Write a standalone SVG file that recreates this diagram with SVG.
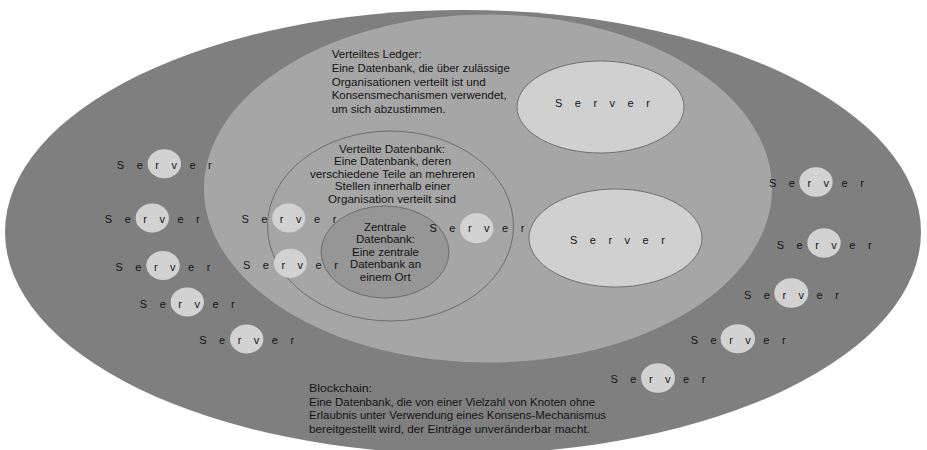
<svg xmlns="http://www.w3.org/2000/svg" width="927" height="450" viewBox="0 0 927 450">
<style>
text{font-family:"Liberation Sans",Arial,sans-serif;font-size:11.5px;fill:#141414}
.srv{font-size:11px;letter-spacing:12.5px}
.dot{fill:#d2d2d2}
.big{fill:#d0d0d0;stroke:#707070;stroke-width:1}
</style>
<rect width="927" height="450" fill="#ffffff"/>
<g id="blockchain">
<ellipse cx="463" cy="232" rx="458" ry="222" fill="#7f7f7f"/>
<text x="309" y="391.5" textLength="63" lengthAdjust="spacingAndGlyphs">Blockchain:</text>
<text x="309" y="405.5" textLength="286" lengthAdjust="spacingAndGlyphs">Eine Datenbank, die von einer Vielzahl von Knoten ohne</text>
<text x="309" y="419.3" textLength="297" lengthAdjust="spacingAndGlyphs">Erlaubnis unter Verwendung eines Konsens-Mechanismus</text>
<text x="309" y="432.8" textLength="281" lengthAdjust="spacingAndGlyphs">bereitgestellt wird, der Einträge unveränderbar macht.</text>
</g>
<g id="ledger">
<ellipse cx="488" cy="188.5" rx="284" ry="174" fill="#a6a6a6"/>
<text x="331.7" y="57.8" textLength="90" lengthAdjust="spacingAndGlyphs">Verteiltes Ledger:</text>
<text x="331.7" y="71.8" textLength="178" lengthAdjust="spacingAndGlyphs">Eine Datenbank, die über zulässige</text>
<text x="331.7" y="85.6" textLength="154" lengthAdjust="spacingAndGlyphs">Organisationen verteilt ist und</text>
<text x="331.7" y="99.3" textLength="175" lengthAdjust="spacingAndGlyphs">Konsensmechanismen verwendet,</text>
<text x="331.7" y="113" textLength="114" lengthAdjust="spacingAndGlyphs">um sich abzustimmen.</text>
</g>
<g id="verteilte-datenbank">
<ellipse cx="390.5" cy="226" rx="123" ry="95" fill="#a6a6a6" stroke="#6e6e6e" stroke-width="1"/>
<text x="339" y="152.5" textLength="106" lengthAdjust="spacingAndGlyphs">Verteilte Datenbank:</text>
<text x="334" y="165" textLength="117" lengthAdjust="spacingAndGlyphs">Eine Datenbank, deren</text>
<text x="310" y="177.5" textLength="165" lengthAdjust="spacingAndGlyphs">verschiedene Teile an mehreren</text>
<text x="334.7" y="190" textLength="116" lengthAdjust="spacingAndGlyphs">Stellen innerhalb einer</text>
<text x="328" y="202.6" textLength="128" lengthAdjust="spacingAndGlyphs">Organisation verteilt sind</text>
</g>
<g id="zentrale-datenbank">
<ellipse cx="385" cy="252" rx="64" ry="46" fill="#969696" stroke="#6e6e6e" stroke-width="1"/>
<text x="364" y="231" textLength="42" lengthAdjust="spacingAndGlyphs">Zentrale</text>
<text x="356" y="243.4" textLength="59" lengthAdjust="spacingAndGlyphs">Datenbank:</text>
<text x="352" y="256" textLength="67" lengthAdjust="spacingAndGlyphs">Eine zentrale</text>
<text x="350" y="268.4" textLength="71" lengthAdjust="spacingAndGlyphs">Datenbank an</text>
<text x="359.7" y="280.8" textLength="51" lengthAdjust="spacingAndGlyphs">einem Ort</text>
</g>
<g id="server-big-1">
<ellipse class="big" cx="600.5" cy="107" rx="83.5" ry="46"/>
<text class="srv" x="555" y="106.5">Server</text>
</g>
<g id="server-big-2">
<ellipse class="big" cx="615.5" cy="238" rx="86.5" ry="49"/>
<text class="srv" x="570" y="244.3">Server</text>
</g>
<g id="server-l1"><ellipse class="dot" cx="164.3" cy="163.8" rx="16.7" ry="14.5"/><text class="srv" x="116.8" y="169.3">Server</text></g>
<g id="server-l2"><ellipse class="dot" cx="152.3" cy="218" rx="16.7" ry="14.5"/><text class="srv" x="104.8" y="223.3">Server</text></g>
<g id="server-l3"><ellipse class="dot" cx="163" cy="265.5" rx="16.7" ry="14.5"/><text class="srv" x="115.5" y="270.7">Server</text></g>
<g id="server-l4"><ellipse class="dot" cx="187.3" cy="302" rx="16.7" ry="14.5"/><text class="srv" x="139.8" y="307.5">Server</text></g>
<g id="server-l5"><ellipse class="dot" cx="246.7" cy="339" rx="16.7" ry="14.5"/><text class="srv" x="199.2" y="344.3">Server</text></g>
<g id="server-m1"><ellipse class="dot" cx="288.7" cy="218" rx="16.5" ry="14.5"/><text class="srv" x="241.4" y="223.3">Server</text></g>
<g id="server-m2"><ellipse class="dot" cx="290.3" cy="263.3" rx="16.5" ry="14.5"/><text class="srv" x="243" y="269.2">Server</text></g>
<g id="server-m3"><ellipse class="dot" cx="476.7" cy="228.3" rx="16.7" ry="15"/><text class="srv" x="429.5" y="232.3">Server</text></g>
<g id="server-r1"><ellipse class="dot" cx="816" cy="182" rx="16.7" ry="14.7"/><text class="srv" x="769" y="187.3">Server</text></g>
<g id="server-r2"><ellipse class="dot" cx="824" cy="243" rx="16.7" ry="14.7"/><text class="srv" x="776.7" y="248.7">Server</text></g>
<g id="server-r3"><ellipse class="dot" cx="791.3" cy="293" rx="17" ry="14.7"/><text class="srv" x="744" y="298.7">Server</text></g>
<g id="server-r4"><ellipse class="dot" cx="737.8" cy="338.8" rx="17.2" ry="14.5"/><text class="srv" x="690.7" y="344.3">Server</text></g>
<g id="server-r5"><ellipse class="dot" cx="658" cy="378" rx="17" ry="14.7"/><text class="srv" x="610.5" y="383.3">Server</text></g>
<g id="connectors"/>
</svg>
